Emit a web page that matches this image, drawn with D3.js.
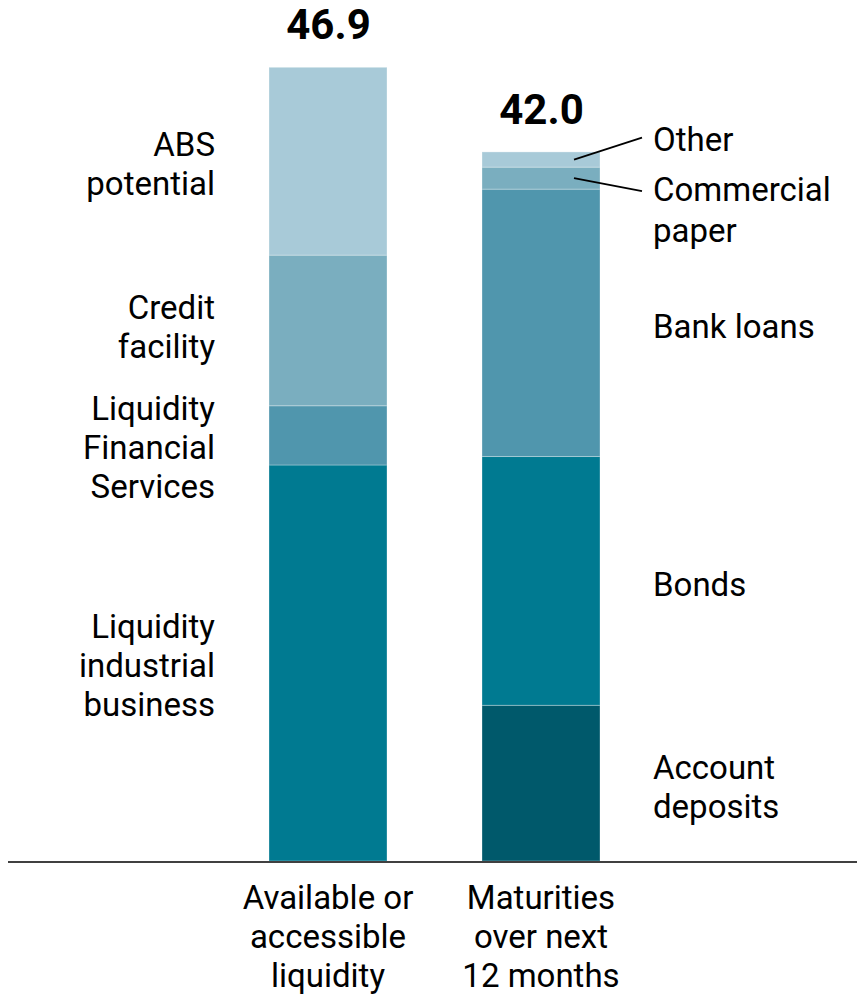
<!DOCTYPE html>
<html><head><meta charset="utf-8">
<script src="https://cdn.jsdelivr.net/npm/d3@7"></script>
<style>
html,body{margin:0;padding:0;background:#fff;}
svg{display:block;}
text{font-family:Roboto,"Liberation Sans",sans-serif;fill:#000;}
</style></head>
<body>
<svg id="chart" width="857" height="997"></svg>
<script>
// ---- data ----
const categories = ["Available or accessible liquidity", "Maturities over next 12 months"];
const categoryLines = [["Available or", "accessible", "liquidity"], ["Maturities", "over next", "12 months"]];
const totals = ["46.9", "42.0"];
const availableSegments = ["Liquidity industrial business", "Liquidity Financial Services", "Credit facility", "ABS potential"];
const availableValues = [23.4, 3.5, 8.9, 11.1];
const maturitySegments = ["Account deposits", "Bonds", "Bank loans", "Commercial paper", "Other"];
const maturityValues = [9.2, 14.7, 15.8, 1.3, 0.9];
const segmentLabelLines = {
  "ABS potential": ["ABS", "potential"],
  "Credit facility": ["Credit", "facility"],
  "Liquidity Financial Services": ["Liquidity", "Financial", "Services"],
  "Liquidity industrial business": ["Liquidity", "industrial", "business"],
  "Other": ["Other"],
  "Commercial paper": ["Commercial", "paper"],
  "Bank loans": ["Bank loans"],
  "Bonds": ["Bonds"],
  "Account deposits": ["Account", "deposits"]
};

// ---- styles ----
const colors = {
  "Liquidity industrial business": "#007a91",
  "Liquidity Financial Services": "#5096ad",
  "Credit facility": "#7aaebf",
  "ABS potential": "#a8cad8",
  "Account deposits": "#00596b",
  "Bonds": "#007a91",
  "Bank loans": "#5096ad",
  "Commercial paper": "#7aaebf",
  "Other": "#a8cad8"
};
const FS = 33, LH = 39;

const svg = d3.select("#chart");
const baseY = 861;
const x = d3.scaleBand().domain(categories).range([269, 600]).paddingInner(0.446).paddingOuter(0);
const y = d3.scaleLinear().domain([0, 46.9]).range([baseY, 67.3]);

function stackOf(names, vals) {
  let acc = 0;
  return names.map((n, i) => { const d = {name: n, y0: acc, y1: acc + vals[i]}; acc += vals[i]; return d; });
}
const stacks = [stackOf(availableSegments, availableValues), stackOf(maturitySegments, maturityValues)];

stacks.forEach((st, ci) => {
  const cat = categories[ci];
  svg.append("g").selectAll("rect").data(st).join("rect")
    .attr("x", x(cat)).attr("width", x.bandwidth())
    .attr("y", d => y(d.y1)).attr("height", d => y(d.y0) - y(d.y1))
    .attr("fill", d => colors[d.name])
    .attr("stroke", "rgba(255,255,255,0.3)").attr("stroke-width", 1);
  const top = st[st.length - 1].y1;
  svg.append("text").attr("x", x(cat) + x.bandwidth() / 2 + 0.5).attr("y", y(top) - 28)
    .attr("text-anchor", "middle").attr("font-weight", "bold").attr("font-size", 42)
    .text(totals[ci]);
});

// axis baseline
svg.append("line").attr("x1", 8).attr("x2", 857).attr("y1", baseY + 1).attr("y2", baseY + 1)
  .attr("stroke", "#000").attr("stroke-width", 1.6);

// category labels
categories.forEach((c, i) => {
  const t = svg.append("text").attr("text-anchor", "middle").attr("font-size", FS);
  categoryLines[i].forEach((ln, k) => {
    t.append("tspan").attr("x", x(c) + x.bandwidth() / 2).attr("y", 909 + k * LH).text(ln);
  });
});

// segment labels
const labelShift = {"Credit facility": -6, "Liquidity Financial Services": 10};
function drawLabel(lines, xpos, centerY, anchor) {
  const t = svg.append("text").attr("text-anchor", anchor).attr("font-size", FS);
  const firstBase = centerY - (lines.length - 1) * LH / 2 + 11;
  lines.forEach((ln, k) => t.append("tspan").attr("x", xpos).attr("y", firstBase + k * LH).text(ln));
}
stacks[0].forEach(d => {
  const mid = (y(d.y0) + y(d.y1)) / 2 + 3 + (labelShift[d.name] || 0);
  drawLabel(segmentLabelLines[d.name], 215, mid, "end");
});
const rx = x(categories[1]) + x.bandwidth();
stacks[1].forEach(d => {
  const mid = (y(d.y0) + y(d.y1)) / 2;
  if (d.name === "Other" || d.name === "Commercial paper") {
    const up = d.name === "Other";
    const ty = up ? mid - 20 : mid + 12;
    svg.append("line").attr("x1", rx - 26).attr("y1", mid)
      .attr("x2", rx + 42).attr("y2", up ? ty - 2 : ty + 1)
      .attr("stroke", "#000").attr("stroke-width", 1.8);
    const lines = segmentLabelLines[d.name];
    const t = svg.append("text").attr("font-size", FS);
    lines.forEach((ln, k) => t.append("tspan").attr("x", 653).attr("y", ty + 11 + k * 41).text(ln));
  } else {
    drawLabel(segmentLabelLines[d.name], 653, mid + 4, "start");
  }
});
</script>
</body></html>
